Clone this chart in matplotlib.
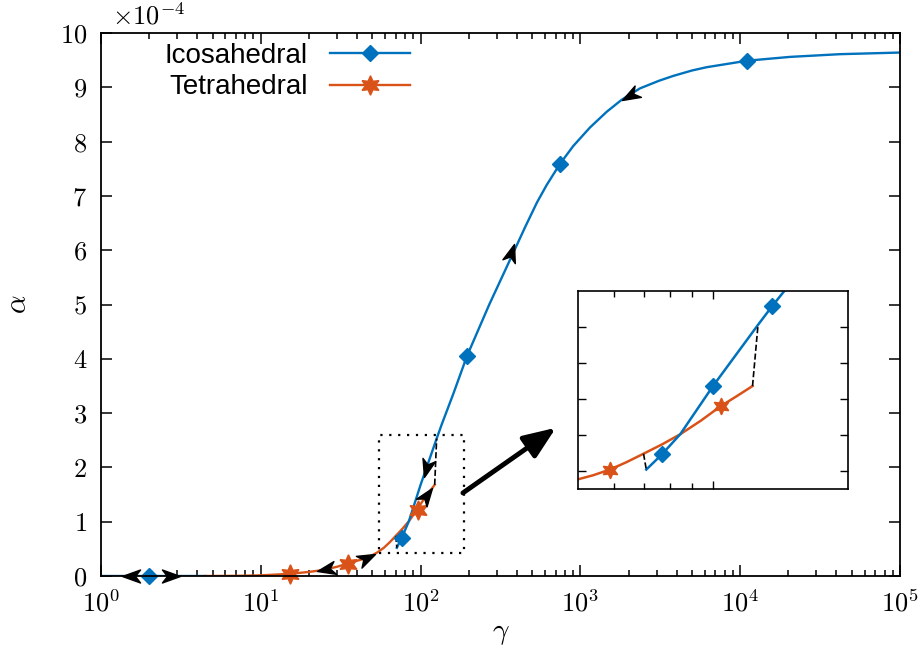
import numpy as np
import matplotlib
matplotlib.use("Agg")
import matplotlib.pyplot as plt
from matplotlib.lines import Line2D
from matplotlib.path import Path
from matplotlib.markers import MarkerStyle
from matplotlib.transforms import Affine2D

plt.rcParams['mathtext.fontset'] = 'cm'
plt.rcParams['font.family'] = ['Liberation Sans', 'DejaVu Sans']

BLUE = '#0072BD'
ORANGE = '#D95319'

# alpha in units of 1e-4
ico_low_g = [1.0, 4.5]
ico_low_a = [0.0, 0.0]
ico_g = [71, 76.9, 84.5, 100, 126, 135.5, 160, 195, 269, 373, 450, 535, 615,
         745, 903, 1148, 1462, 1812, 2360, 3100, 3813, 5000, 6170, 11070,
         20500, 42100, 100000]
ico_a = [0.52, 0.73, 1.01, 1.68, 2.53, 2.79, 3.35, 4.05, 5.0, 5.9, 6.42, 6.88,
         7.2, 7.59, 7.92, 8.26, 8.55, 8.77, 8.98, 9.12, 9.21, 9.31, 9.37, 9.49,
         9.56, 9.61, 9.64]

tet_g = [4.5, 7, 10, 15.2, 20, 24.5, 30, 35, 40, 47, 54, 58.9, 64, 70, 77,
         84.5, 94, 104, 113, 122.5]
tet_a = [0.0, 0.003, 0.012, 0.04, 0.075, 0.11, 0.17, 0.23, 0.28, 0.34, 0.44,
         0.52, 0.62, 0.74, 0.87, 1.01, 1.2, 1.40, 1.54, 1.68]

# jumps between branches
jump1_g = [70, 71]
jump1_a = [0.74, 0.52]
jump2_g = [122.5, 126]
jump2_a = [1.68, 2.53]

ico_mk_g = [2, 76.9, 195, 745, 11070]
ico_mk_a = [0.0, 0.7, 4.05, 7.59, 9.49]
tet_mk_g = [15.2, 35, 96]
tet_mk_a = [0.04, 0.23, 1.22]

ins_ico_mk_g = [76.9, 100, 135.5]
ins_ico_mk_a = [0.73, 1.68, 2.79]
ins_tet_mk_g = [58.9, 104]
ins_tet_mk_a = [0.52, 1.40]

# direction arrows (tail, tip)
arrows = [
    ((1.75, 0.0), (1.35, 0.0)),
    ((2.5, 0.0), (3.1, 0.0)),
    ((27.9, 0.14), (22.5, 0.085)),
    ((42.7, 0.29), (52, 0.41)),
    ((101.6, 1.36), (118, 1.62)),
    ((111, 2.08), (105, 1.82)),
    ((350, 5.72), (386, 6.12)),
    ((2290, 8.93), (1830, 8.77)),
]

STAR = (6, 1, 0)
HEAD = Path([(0, 0), (-1, 0.36), (-0.72, 0), (-1, -0.36), (0, 0)],
            [Path.MOVETO, Path.LINETO, Path.LINETO, Path.LINETO, Path.CLOSEPOLY])

fig = plt.figure(figsize=(9.22, 6.67), dpi=100)
ax = fig.add_axes([101/922, 1-576/667, 799/922, 543/667])

ax.plot(ico_low_g, ico_low_a, color=BLUE, lw=1.7)
ax.plot(tet_g, tet_a, color=ORANGE, lw=1.7)
ax.plot(ico_g, ico_a, color=BLUE, lw=1.7)
ax.plot(jump1_g, jump1_a, 'k--', lw=1.2)
ax.plot(jump2_g, jump2_a, 'k--', lw=1.2)
ax.plot(ico_mk_g, ico_mk_a, 'D', color=BLUE, ms=8, ls='none', clip_on=False)
ax.plot(tet_mk_g, tet_mk_a, marker=STAR, color=ORANGE, ms=14, ls='none',
        clip_on=False)

ax.set_xscale('log')
ax.set_xlim(1, 1e5)
ax.set_ylim(0, 10)

for tail, tip in arrows:
    p0 = ax.transData.transform(tail)
    p1 = ax.transData.transform(tip)
    ang = np.degrees(np.arctan2(p1[1] - p0[1], p1[0] - p0[0]))
    mk = MarkerStyle(HEAD, transform=Affine2D().rotate_deg(ang))
    ax.plot([tip[0]], [tip[1]], marker=mk, color='k', ms=26, ls='none',
            zorder=5, clip_on=False)

# zoom box
bx = [55, 187, 187, 55, 55]
by = [0.42, 0.42, 2.6, 2.6, 0.42]
ax.plot(bx, by, color='k', ls=(0, (1, 3)), lw=1.6)

ax.annotate('', xy=(703, 2.73), xytext=(184, 1.53),
            arrowprops=dict(arrowstyle='-|>,head_length=1.5,head_width=0.6',
                            color='k', lw=3.5, shrinkA=0, shrinkB=0,
                            mutation_scale=13))

ax.set_xticks([1, 10, 100, 1e3, 1e4, 1e5])
ax.set_xticklabels([r'$10^{%d}$' % i for i in range(6)])
ax.set_yticks(range(11))
ax.set_yticklabels([r'$%d$' % i for i in range(11)])
ax.tick_params(which='both', direction='in', top=True, right=True,
               labelsize=19, width=1.1)
ax.tick_params(which='major', length=8, pad=10)
ax.tick_params(which='minor', length=4)
for s in ax.spines.values():
    s.set_linewidth(1.3)
ax.set_xlabel(r'$\gamma$', fontsize=21, labelpad=2)
ax.set_ylabel(r'$\alpha$', fontsize=21, labelpad=20)
fig.text(112/922, 1-16/667, r'$\times10^{-4}$', fontsize=19, va='center')

h1 = Line2D([], [], color=BLUE, lw=1.7, marker='D', ms=8)
h2 = Line2D([], [], color=ORANGE, lw=1.7, marker=STAR, ms=14)
ax.legend([h1, h2], ['Icosahedral', 'Tetrahedral'], loc='upper left',
          bbox_to_anchor=(0.055, 1.018), frameon=False, markerfirst=False,
          numpoints=1, fontsize=20, handlelength=2.9, handletextpad=0.8,
          labelspacing=0.2, borderaxespad=0.3)

# inset
axi = fig.add_axes([578/922, 1-489/667, 270/922, 198/667])
axi.plot(tet_g, tet_a, color=ORANGE, lw=1.8)
axi.plot(ico_g, ico_a, color=BLUE, lw=1.8)
axi.plot(jump1_g, jump1_a, 'k--', lw=1.2)
axi.plot(jump2_g, jump2_a, 'k--', lw=1.2)
axi.plot(ins_ico_mk_g, ins_ico_mk_a, 'D', color=BLUE, ms=8, ls='none')
axi.plot(ins_tet_mk_g, ins_tet_mk_a, marker=STAR, color=ORANGE, ms=12, ls='none')
axi.set_xscale('log')
axi.set_xlim(50, 200)
axi.set_ylim(0.25, 3.0)
axi.set_yticks([0.5, 1.0, 1.5, 2.0, 2.5])
axi.set_xticks([100])
axi.set_xticks([60, 70, 80, 90], minor=True)
axi.tick_params(which='both', direction='in', top=True, right=True,
                labelbottom=False, labelleft=False, width=1.0)
axi.tick_params(which='major', length=6)
axi.tick_params(which='minor', length=4)
axi.xaxis.set_minor_formatter(plt.NullFormatter())
for s in axi.spines.values():
    s.set_linewidth(1.2)

fig.savefig('out.png', dpi=100)
